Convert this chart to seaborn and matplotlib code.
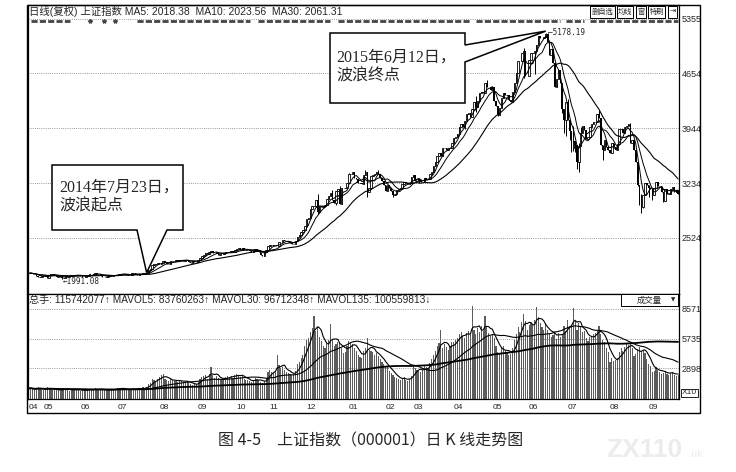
import numpy as np
import pandas as pd
import matplotlib
matplotlib.use("Agg")
import matplotlib.pyplot as plt
from matplotlib.patches import Polygon, Rectangle
from matplotlib.lines import Line2D
import seaborn as sns

# ---------------- data ----------------
start_date, end_date = "2014-04-21", "2015-09-25"
holidays = ["2014-05-01", "2014-05-02", "2014-06-02", "2014-09-08", "2014-10-01", "2014-10-02",
            "2014-10-03", "2014-10-06", "2014-10-07", "2015-01-01", "2015-01-02", "2015-02-18",
            "2015-02-19", "2015-02-20", "2015-02-23", "2015-02-24", "2015-04-06", "2015-05-01",
            "2015-06-22", "2015-09-03", "2015-09-04"]

first_open = 2068
close_1404 = [2065, 2073, 2059, 2055, 2036, 2020, 2021, 2033]
close_1405 = [2027, 2029, 2011, 2050, 2052, 2053, 2047, 2025, 2026, 2024, 2005, 2010, 2034, 2021, 2035,
              2042, 2041, 2050, 2040, 2039]
close_1406 = [2038, 2025, 2024, 2029, 2031, 2053, 2052, 2051, 2070, 2061, 2055, 2038, 2025, 2024, 2025,
              2034, 2036, 2036, 2040, 2048]
close_1407 = [2050, 2060, 2064, 2060, 2059, 2039, 2046, 2039, 2066, 2068, 2053, 2046, 2060, 2055, 2075,
              2066, 2075, 2108, 2127, 2178, 2182, 2185, 2202]
close_1408 = [2186, 2204, 2224, 2217, 2188, 2193, 2224, 2228, 2225, 2233, 2227, 2239, 2245, 2231, 2240,
              2236, 2217, 2195, 2229, 2218, 2217]
close_1409 = [2235, 2266, 2288, 2306, 2327, 2319, 2344, 2357, 2332, 2331, 2347, 2307, 2316, 2310, 2329,
              2343, 2345, 2347, 2351, 2347, 2364]
close_1410 = [2383, 2389, 2374, 2390, 2367, 2374, 2374, 2356, 2341, 2356, 2380, 2372, 2345, 2302, 2291,
              2338, 2373, 2420]
close_1411 = [2430, 2430, 2419, 2426, 2419, 2473, 2469, 2494, 2486, 2478, 2474, 2456, 2451, 2452, 2487,
              2532, 2567, 2604, 2630, 2683]
close_1412 = [2763, 2779, 2899, 2937, 2938, 3020, 2856, 2940, 2926, 2938, 2953, 3022, 3061, 3108, 3020,
              2972, 3128, 3157, 2967, 3168, 3165, 3166, 3235]
close_1501 = [3351, 3352, 3374, 3294, 3285, 3229, 3236, 3222, 3336, 3376, 3116, 3173, 3323, 3343, 3351,
              3383, 3353, 3305, 3262, 3210]
close_1502 = [3128, 3204, 3174, 3136, 3076, 3095, 3141, 3158, 3173, 3222, 3246, 3228, 3215, 3228, 3310]
close_1503 = [3336, 3263, 3280, 3279, 3248, 3241, 3302, 3286, 3290, 3349, 3372, 3449, 3502, 3577, 3617,
              3582, 3687, 3691, 3660, 3682, 3691, 3748]
close_1504 = [3810, 3825, 3863, 3961, 3995, 3957, 4034, 4121, 4135, 4084, 4194, 4287, 4217, 4293, 4398,
              4414, 4394, 4527, 4477, 4476, 4442]
close_1505 = [4480, 4298, 4229, 4112, 4205, 4333, 4401, 4376, 4378, 4308, 4283, 4417, 4530, 4658, 4814,
              4813, 4910, 4941, 4620, 4612]
close_1506 = [4828, 4910, 4910, 4947, 5023, 5131, 5113, 5106, 5121, 5166, 5062, 4887, 4967, 4786, 4478,
              4576, 4691, 4528, 4193, 4053, 4277]
close_1507 = [4054, 3912, 3687, 3776, 3727, 3507, 3710, 3878, 3970, 3925, 3805, 3823, 3957, 3992, 4017,
              4027, 4124, 4070, 3726, 3663, 3790, 3705, 3664]
close_1508 = [3623, 3756, 3694, 3661, 3744, 3928, 3928, 3887, 3955, 3965, 3994, 3749, 3794, 3664, 3507,
              3209, 2965, 2927, 3084, 3232, 3206]
close_1509 = [3166, 3160, 3080, 3170, 3243, 3197, 3200, 3114, 3005, 3152, 3086, 3097, 3157, 3186, 3116,
              3143, 3093]

# notable intraday extremes read from the wicks (bar index, value)
wick_low_idx = [18, 157, 167, 184, 198, 212, 237, 243, 255, 269, 275, 286, 290, 291, 292, 293, 294,
                295, 296, 297, 298, 299, 311, 312, 331, 332, 333, 334, 337, 339, 345]
wick_low_val = [1991.08, 2834, 2950, 3049, 3049, 3240, 3930, 4147, 4099, 4590, 4647, 4476, 4140, 3875,
                3847, 4043, 3795, 3629, 3653, 3640, 3421, 3373.54, 3720, 3537, 3191, 2952, 2850.71, 2906,
                3053, 3011, 2983]
wick_high_idx = [157, 165, 169, 174, 183, 190, 195, 243, 249, 269, 281, 282, 293, 296, 299, 300, 310,
                 327, 333]
wick_high_val = [3091, 3139, 3190, 3369, 3400, 3406, 3210, 4356, 4572, 4986, 5178.19, 5176, 4317, 3975,
                 3748, 3959, 4184, 4006, 3092]

vol_1404 = [1000, 1050, 950, 880, 1020, 1100, 980, 900]
vol_1405 = [880, 900, 1100, 1050, 950, 870, 820, 900, 850, 780, 950, 1000, 920, 850, 800, 880, 900, 950, 870, 820]
vol_1406 = [800, 850, 830, 780, 900, 950, 880, 870, 1000, 920, 900, 950, 880, 850, 820, 860, 900, 880, 920, 980]
vol_1407 = [1000, 1050, 1020, 980, 950, 900, 880, 860, 1000, 1050, 950, 920, 1000, 980, 1100, 1050, 1150,
            1400, 1500, 1900, 1800, 1700, 1900]
vol_1408 = [2100, 2300, 2400, 1900, 1800, 1700, 1900, 1800, 1750, 1700, 1650, 1800, 1750, 1600, 1650, 1700,
            1500, 1400, 1300, 1400, 1450]
vol_1409 = [1600, 1900, 2100, 2200, 2300, 1900, 2400, 3000, 2300, 2000, 2200, 2000, 1900, 1800, 1900, 2100,
            2200, 2100, 2200, 2000, 2300]
vol_1410 = [2400, 2300, 2100, 2200, 1900, 1800, 1850, 1700, 1600, 1750, 2000, 1900, 1800, 1600, 1500, 1700,
            2000, 2600]
vol_1411 = [2800, 2600, 2500, 2600, 4200, 3200, 2900, 3000, 2800, 2600, 2500, 2400, 2300, 2400, 2700, 3300,
            3500, 3900, 4200, 5000]
vol_1412 = [5600, 5800, 6400, 6700, 7900, 6500, 6800, 5900, 5500, 5000, 4800, 5200, 5600, 7100, 5600, 5000,
            5200, 5400, 5300, 4800, 4400, 4500, 5000]
vol_1501 = [5500, 5300, 5200, 4800, 4600, 4200, 4000, 3900, 4600, 4800, 5800, 4700, 4600, 4500, 4200, 4400,
            4100, 3800, 3500, 3300]
vol_1502 = [3100, 3000, 2700, 2500, 2300, 2100, 2000, 1900, 1800, 2000, 2100, 1800, 1700, 1900, 2200]
vol_1503 = [3200, 2900, 2800, 2700, 2600, 2800, 3100, 3000, 2900, 3400, 3800, 4200, 4600, 5000, 5300, 6600,
            4800, 5200, 4900, 4700, 5000, 5400]
vol_1504 = [5400, 5600, 5800, 6200, 6400, 6000, 5800, 6300, 6500, 6100, 8800, 6600, 6200, 6700, 6400, 6900,
            6500, 7900, 6800, 6300, 6000]
vol_1505 = [6200, 5800, 5000, 4500, 4300, 4800, 5000, 4600, 4400, 4200, 4300, 4800, 5600, 6200, 6800, 6400,
            7300, 8100, 7400, 6600]
vol_1506 = [7000, 7200, 7000, 7500, 8700, 7800, 7200, 6800, 6600, 7100, 6600, 6200, 5900, 6100, 6500, 5700,
            6300, 5900, 6200, 6900, 6500]
vol_1507 = [7500, 6900, 7000, 8600, 7400, 6600, 7200, 6800, 6400, 6500, 5800, 5500, 5900, 6000, 6200, 6300,
            6500, 6900, 6200, 5600, 5400, 4800, 4500]
vol_1508 = [3500, 3900, 3600, 3700, 3900, 4500, 4800, 4600, 4900, 5200, 5100, 5400, 4800, 4100, 4300, 4700,
            4900, 4600, 4700, 4400, 3800]
vol_1509 = [3300, 3100, 2600, 2700, 3000, 2800, 2600, 2400, 2500, 2700, 2400, 2300, 2500, 2600, 2300, 2200, 2250]

price_ticks = [5355, 4654, 3944, 3234, 2524]
vol_ticks = [8571, 5735, 2898]
start_idx = 64   # 2014-07-23
peak_idx = 281   # 2015-06-12
peak_val = 5178.19

header_price = "日线(复权) 上证指数 MA5: 2018.38  MA10: 2023.56  MA30: 2061.31"
header_vol = "总手: 115742077↑ MAVOL5: 83760263↑ MAVOL30: 96712348↑ MAVOL135: 100559813↓"
note_start = "2014年7月23日，\n波浪起点"
note_end = "2015年6月12日，\n波浪终点"
caption = "图 4-5　上证指数（000001）日 K 线走势图"
buttons = ["删自选", "均线", "窗", "特刷", "⇥"]

# ---------------- assemble ----------------
closes = np.array(close_1404 + close_1405 + close_1406 + close_1407 + close_1408 + close_1409 +
                  close_1410 + close_1411 + close_1412 + close_1501 + close_1502 + close_1503 +
                  close_1504 + close_1505 + close_1506 + close_1507 + close_1508 + close_1509, float)
vols = np.array(vol_1404 + vol_1405 + vol_1406 + vol_1407 + vol_1408 + vol_1409 + vol_1410 + vol_1411 +
                vol_1412 + vol_1501 + vol_1502 + vol_1503 + vol_1504 + vol_1505 + vol_1506 + vol_1507 +
                vol_1508 + vol_1509, float)
dates = pd.bdate_range(start_date, end_date)
dates = dates[~dates.isin(pd.to_datetime(holidays))]
n = min(len(dates), len(closes), len(vols))
dates, closes, vols = dates[:n], closes[:n], vols[:n]
opens = np.r_[first_open, closes[:-1]]
highs = np.maximum(opens, closes)
lows = np.minimum(opens, closes)
for i, v in zip(wick_low_idx, wick_low_val):
    if i < n:
        lows[i] = min(lows[i], v)
for i, v in zip(wick_high_idx, wick_high_val):
    if i < n:
        highs[i] = max(highs[i], v)

df = pd.DataFrame({"i": np.arange(n), "date": dates, "open": opens, "high": highs,
                   "low": lows, "close": closes, "vol": vols})
for w in (5, 10, 30):
    df[f"ma{w}"] = df["close"].rolling(w, min_periods=1).mean()
for w in (5, 30, 135):
    df[f"mv{w}"] = df["vol"].rolling(w, min_periods=1).mean()

month_first = df.groupby(df["date"].dt.to_period("M"))["i"].min().values
month_lbl = [dates[i].strftime("%m") for i in month_first]

# ---------------- figure ----------------
sns.set_style("white")
plt.rcParams["font.family"] = ["Liberation Sans", "Noto Sans CJK SC", "DejaVu Sans"]
plt.rcParams["axes.unicode_minus"] = False

W, H = 736, 472
fig = plt.figure(figsize=(W / 100, H / 100), dpi=100)
fig.patch.set_facecolor("white")


def fx(px):
    return px / W


def fy(py):
    return 1 - py / H


L, R = 28, 679
ax = fig.add_axes([fx(L), fy(294), fx(R) - fx(L), fy(5) - fy(294)])
axv = fig.add_axes([fx(L), fy(399), fx(R) - fx(L), fy(294) - fy(399)], sharex=ax)

# price panel
ax.set_xlim(-0.5, n - 0.5)
ax.set_ylim(1799, 5536)
for v in price_ticks:
    ax.axhline(v, color="#777777", lw=0.6, ls=(0, (1, 1.6)), zorder=0)
x = df["i"].values
up = df["close"].values >= df["open"].values
ax.vlines(x, df["low"], df["high"], color="k", lw=0.7, zorder=2)
ax.bar(x[up], (df["close"] - df["open"]).values[up], bottom=df["open"].values[up], width=0.8,
       facecolor="white", edgecolor="k", linewidth=0.6, zorder=3)
ax.bar(x[~up], (df["open"] - df["close"]).values[~up], bottom=df["close"].values[~up], width=0.8,
       color="k", linewidth=0, zorder=3)
for col, lw in (("ma5", 0.7), ("ma10", 0.7), ("ma30", 0.8)):
    sns.lineplot(data=df, x="i", y=col, ax=ax, color="k", linewidth=lw, legend=False, zorder=4)
ax.set_xlabel("")
ax.set_ylabel("")
ax.yaxis.tick_right()
ax.set_yticks(price_ticks)
ax.set_yticklabels([str(v) for v in price_ticks])
ax.tick_params(axis="y", length=0, pad=2, labelsize=6.5)
ax.tick_params(axis="x", bottom=False, labelbottom=False)
for s in ax.spines.values():
    s.set_linewidth(0.9)
    s.set_color("k")

ax.text(peak_idx + 1.0, peak_val, "—5178.19", fontsize=5.5, va="center", ha="left",
        family=["DejaVu Sans Mono"], zorder=6)
low_i = int(np.argmin(df["low"].values))
ax.text(low_i + 0.3, df["low"].values[low_i] - 25, "←1991.08", fontsize=5.5, va="center", ha="left",
        family=["DejaVu Sans Mono"], zorder=6)

# volume panel
axv.set_ylim(0, 9975)
for v in vol_ticks:
    axv.axhline(v, color="#777777", lw=0.6, ls=(0, (1, 1.6)), zorder=0)
axv.bar(x, df["vol"], width=0.62, color="#5c5c5c", linewidth=0, zorder=2)
for col, lw in (("mv5", 0.8), ("mv30", 0.8), ("mv135", 1.3)):
    sns.lineplot(data=df, x="i", y=col, ax=axv, color="k", linewidth=lw, legend=False, zorder=4)
axv.set_xlabel("")
axv.set_ylabel("")
axv.yaxis.tick_right()
axv.set_yticks(vol_ticks)
axv.set_yticklabels([str(v) for v in vol_ticks])
axv.tick_params(axis="y", length=0, pad=2, labelsize=6.5)
axv.set_xticks(month_first)
axv.set_xticklabels(month_lbl)
axv.tick_params(axis="x", length=3, width=0.6, direction="out", pad=0.5, labelsize=6)
for lbl in axv.get_xticklabels():
    lbl.set_ha("left")
for s in axv.spines.values():
    s.set_linewidth(0.9)
    s.set_color("k")

# outer frame
fig.add_artist(Rectangle((fx(27), fy(413)), fx(700) - fx(27), fy(5) - fy(413), fill=False, lw=1.0,
                         edgecolor="k", transform=fig.transFigure, zorder=10))

# headers
fig.text(fx(29), fy(11.5), header_price, fontsize=7.5, va="center", ha="left", zorder=12)
fig.text(fx(29), fy(300.5), header_vol, fontsize=7.3, va="center", ha="left", zorder=12)

# info-marker row under price header
for a, b in ((31, 70), (137, 250), (258, 330), (338, 470), (476, 560), (566, 584), (590, 678)):
    fig.add_artist(Line2D([fx(a), fx(b)], [fy(20.5), fy(20.5)], transform=fig.transFigure,
                          color="#444444", lw=2.0, ls=(0, (2.2, 0.8)), zorder=11))
for px in (90, 104, 115):
    fig.add_artist(Line2D([fx(px)], [fy(20.5)], transform=fig.transFigure, marker="*",
                          markersize=3, color="#444444", zorder=11))

# buttons top right (boxes + labels)
btn_boxes = [(590, 615), (617, 633), (636, 646), (648, 665), (668, 677)]
for lab, (a, b) in zip(buttons, btn_boxes):
    fig.add_artist(Rectangle((fx(a), fy(17.5)), fx(b) - fx(a), fy(6) - fy(17.5), fc="white", ec="k",
                             lw=0.7, transform=fig.transFigure, zorder=11))
    fig.text(fx((a + b) / 2), fy(12), lab, fontsize=5.2, ha="center", va="center", zorder=12,
             family=["Noto Sans CJK SC", "DejaVu Sans"])

# 成交量 dropdown box
fig.add_artist(Rectangle((fx(621), fy(306)), fx(678) - fx(621), fy(294) - fy(306), fc="white",
                         ec="k", lw=0.7, transform=fig.transFigure, zorder=11))
fig.text(fx(649), fy(300), "成交量", fontsize=6, ha="center", va="center", zorder=12,
         family=["Noto Sans CJK SC"])
fig.text(fx(673), fy(300), "▼", fontsize=4, ha="center", va="center", zorder=12,
         family=["DejaVu Sans"])
fig.text(fx(689.5), fy(393), "X10", fontsize=6, ha="center", va="center", zorder=12,
         bbox=dict(boxstyle="square,pad=0.1", fc="white", ec="k", lw=0.6))


# callouts
def data_to_fig(axis, xv, yv):
    disp = axis.transData.transform((xv, yv))
    return tuple(fig.transFigure.inverted().transform(disp))


tip1 = data_to_fig(ax, start_idx, df["close"].values[start_idx])
tip2 = data_to_fig(ax, peak_idx, peak_val + 20)
P = lambda px, py: (fx(px), fy(py))
poly1 = [P(52, 165), P(183, 165), P(183, 230), P(167, 230), tip1, P(137, 230), P(52, 230)]
poly2 = [P(330, 33), P(465, 33), P(465, 45), tip2, P(465, 62), P(465, 103), P(330, 103)]
for poly in (poly1, poly2):
    fig.add_artist(Polygon(poly, closed=True, fc="white", ec="k", lw=1.1, transform=fig.transFigure,
                           zorder=13, joinstyle="miter"))

serif = ["Liberation Serif", "Noto Sans CJK SC"]
fig.text(fx(59), fy(197), note_start, fontsize=11.5, va="center", ha="left", linespacing=1.25,
         family=serif, zorder=14)
fig.text(fx(336), fy(67), note_end, fontsize=11.5, va="center", ha="left", linespacing=1.25,
         family=serif, zorder=14)

# caption and watermark
fig.text(fx(371), fy(441), caption, fontsize=11.5, ha="center", va="center",
         family=["Noto Sans CJK SC", "DejaVu Sans"])
fig.text(fx(606), fy(450), "ZX110", fontsize=19, ha="left", va="center", color="#ececec",
         fontweight="bold")
fig.text(fx(688), fy(454), ".uk", fontsize=8, ha="left", va="center", color="#ececec")

fig.savefig("out.png", dpi=100, facecolor="white")
